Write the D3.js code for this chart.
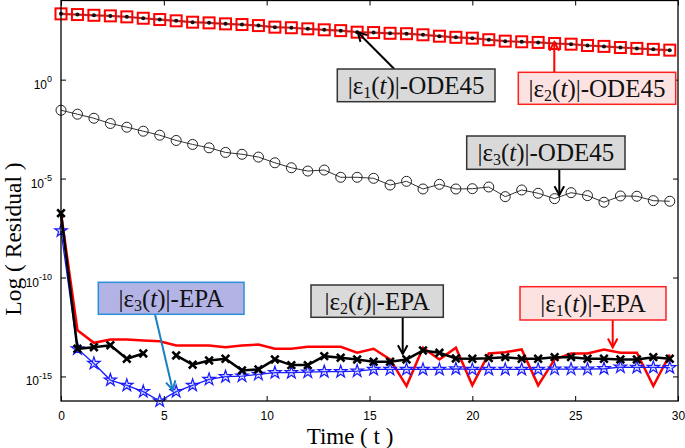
<!DOCTYPE html>
<html><head><meta charset="utf-8">
<script src="https://cdn.jsdelivr.net/npm/d3@7"></script>
<style>body{margin:0;background:#fff;} svg{display:block;}</style>
</head><body><svg id="c" width="685" height="448"></svg>
<script>
// ---------- DATA ----------
const time = [0,0.8,1.6,2.4,3.2,4.0,4.8,5.6,6.4,7.2,8.0,8.8,9.6,10.4,11.2,12.0,12.8,13.6,14.4,15.2,
  16.0,16.8,17.6,18.4,19.2,20.0,20.8,21.6,22.4,23.2,24.0,24.8,25.6,26.4,27.2,28.0,28.8,29.6];
const xTicks = [0,5,10,15,20,25,30];
const yTicks = [1e-15,1e-10,1e-5,1e0];
const yTickExp = ["-15","-10","-5","0"];

const e1ODE45 = [2.11e3,1.95e3,1.79e3,1.67e3,1.49e3,1.27e3,1.09e3,9.4e2,8.0e2,7.4e2,6.6e2,6.1e2,5.4e2,4.5e2,
  4.2e2,3.7e2,3.3e2,3.0e2,2.5e2,2.4e2,2.2e2,2.1e2,1.85e2,1.57e2,1.38e2,1.25e2,1.04e2,88,82,76,67,62,53,48,42,38,34,31];
const e2ODE45 = [2.11e3,1.95e3,1.79e3,1.67e3,1.49e3,1.27e3,1.09e3,9.4e2,8.0e2,7.4e2,6.6e2,6.1e2,5.4e2,4.5e2,
  4.2e2,3.7e2,3.3e2,3.0e2,2.5e2,2.4e2,2.2e2,2.1e2,1.85e2,1.57e2,1.38e2,1.25e2,1.04e2,88,82,76,67,62,53,48,42,38,34,31];
const e3ODE45 = [2.84e-2,1.79e-2,1.12e-2,6.07e-3,3.95e-3,2.48e-3,1.56e-3,8.45e-4,5.31e-4,3.58e-4,2.10e-4,1.69e-4,
  1.22e-4,6.28e-5,3.52e-5,2.40e-5,2.70e-5,1.16e-5,1.16e-5,1.03e-5,4.73e-6,7.26e-6,2.98e-6,5.13e-6,2.98e-6,3.08e-6,
  3.75e-6,1.22e-6,2.65e-6,1.81e-6,9.66e-7,1.94e-6,1.37e-6,6.37e-7,1.32e-6,1.28e-6,7.66e-7,7.14e-7];
const e1EPA = [1.77e-7,2.16e-13,5.01e-14,7.35e-14,7.35e-14,6.55e-14,6.04e-14,3.66e-14,3.66e-14,3.66e-14,3.01e-14,
  3.66e-14,4.12e-14,2.50e-14,2.50e-14,3.15e-14,3.15e-14,3.15e-14,1.57e-14,2.50e-14,7.23e-15,3.27e-16,2.81e-14,
  7.23e-15,2.81e-14,3.54e-16,1.45e-14,1.69e-14,2.31e-14,3.54e-16,7.23e-15,1.45e-14,1.45e-14,2.31e-14,1.57e-14,
  1.57e-14,3.27e-16,1.29e-14];
const e2EPA = [1.77e-7,2.50e-14,3.01e-14,3.79e-14,7.83e-15,1.45e-14,null,1.15e-14,3.91e-15,6.44e-15,7.83e-15,
  2.02e-15,2.26e-15,7.23e-15,3.73e-15,3.73e-15,1.06e-14,8.81e-15,7.23e-15,5.53e-15,5.53e-15,7.23e-15,2.05e-14,
  1.57e-14,8.11e-15,7.83e-15,8.39e-15,9.44e-15,7.83e-15,7.83e-15,9.44e-15,9.44e-15,7.83e-15,7.83e-15,7.23e-15,
  7.23e-15,9.44e-15,7.83e-15];
const e3EPA = [2.28e-8,2.50e-14,4.54e-15,6.55e-16,3.54e-16,1.71e-16,5.73e-17,1.71e-16,3.54e-16,7.10e-16,9.70e-16,
  1.04e-15,1.27e-15,1.55e-15,1.55e-15,1.66e-15,1.73e-15,1.73e-15,1.86e-15,2.26e-15,2.26e-15,2.26e-15,2.26e-15,
  2.26e-15,2.40e-15,2.26e-15,2.26e-15,2.26e-15,2.26e-15,2.26e-15,2.34e-15,2.34e-15,2.34e-15,2.45e-15,2.96e-15,
  2.86e-15,2.86e-15,2.76e-15];
const xLabel = "Time ( t )";
const yLabel = "Log ( Residual )";

// ---------- CHART ----------
const svg = d3.select("#c");
const L = 61, R = 678, T = 0.5, B = 401;
const x = d3.scaleLinear().domain([0, 30]).range([L, R]);
const allVals = [].concat(e1ODE45, e3ODE45, e1EPA, e2EPA, e3EPA).filter(v => v != null);
const y = d3.scaleLog().domain([d3.min(allVals), 1e4]).range([B, T]);

const axisFont = "'Liberation Sans', Arial, sans-serif";
const serif = "'Liberation Serif', 'Times New Roman', serif";

const pts = arr => time.map((t, i) => ({t, v: arr[i]}));
const line = d3.line().defined(d => d.v != null).x(d => x(d.t)).y(d => y(d.v));

const plot = svg.append("g");

// ODE45 e3: open circles
plot.append("path").attr("d", line(pts(e3ODE45))).attr("fill", "none").attr("stroke", "#333").attr("stroke-width", 1);
plot.selectAll(".c3").data(pts(e3ODE45)).join("circle")
  .attr("cx", d => x(d.t)).attr("cy", d => y(d.v)).attr("r", 5)
  .attr("fill", "none").attr("stroke", "#222").attr("stroke-width", 1);

// ODE45 e2: red squares; e1: black dots
plot.append("path").attr("d", line(pts(e2ODE45))).attr("fill", "none").attr("stroke", "#e03030").attr("stroke-width", 2.2);
plot.append("path").attr("d", line(pts(e1ODE45))).attr("fill", "none").attr("stroke", "#333").attr("stroke-width", 1).attr("opacity", 0.6);
plot.selectAll(".sq").data(pts(e2ODE45)).join("rect")
  .attr("x", d => x(d.t) - 5.5).attr("y", d => y(d.v) - 5.5).attr("width", 11).attr("height", 11)
  .attr("fill", "none").attr("stroke", "#ff0000").attr("stroke-width", 2);
plot.selectAll(".dt").data(pts(e1ODE45)).join("circle")
  .attr("cx", d => x(d.t)).attr("cy", d => y(d.v)).attr("r", 2)
  .attr("fill", "#111");

// EPA e1: red line
plot.append("path").attr("d", line(pts(e1EPA))).attr("fill", "none").attr("stroke", "#ff0000").attr("stroke-width", 2.5);
// EPA e3: blue stars
plot.append("path").attr("d", line(pts(e3EPA))).attr("fill", "none").attr("stroke", "#1a1aff").attr("stroke-width", 1.3);
const star = d3.symbol().type(d3.symbolStar).size(48);
plot.selectAll(".st").data(pts(e3EPA)).join("path")
  .attr("d", star).attr("transform", d => `translate(${x(d.t)},${y(d.v)})`)
  .attr("fill", "rgba(120,140,255,0.25)").attr("stroke", "#1a1aff").attr("stroke-width", 1.2);
// EPA e2: black crosses
plot.append("path").attr("d", line(pts(e2EPA))).attr("fill", "none").attr("stroke", "#000").attr("stroke-width", 2.5);
plot.selectAll(".cx").data(pts(e2EPA).filter(d => d.v != null)).join("path")
  .attr("d", "M-3.8,-3.8L3.8,3.8M-3.8,3.8L3.8,-3.8")
  .attr("transform", d => `translate(${x(d.t)},${y(d.v)})`)
  .attr("fill", "none").attr("stroke", "#000").attr("stroke-width", 2.6);

// ---------- AXES ----------
const ax = svg.append("g").attr("font-family", axisFont);
const gx = ax.append("g").attr("transform", `translate(0,${B})`)
  .call(d3.axisBottom(x).tickValues(xTicks).tickSizeInner(-5).tickSizeOuter(0).tickPadding(10.5).tickFormat(d3.format("d")));
gx.selectAll("text").attr("font-size", 12).attr("fill", "#000").attr("font-family", axisFont);
ax.append("g").attr("transform", `translate(0,${T})`)
  .call(d3.axisTop(x).tickValues(xTicks).tickSizeInner(-5).tickSizeOuter(0).tickFormat(""));
const gy = ax.append("g").attr("transform", `translate(${L},0)`)
  .call(d3.axisLeft(y).tickValues(yTicks).tickSizeInner(-5).tickSizeOuter(0).tickPadding(10).tickFormat(""));
ax.append("g").attr("transform", `translate(${R},0)`)
  .call(d3.axisRight(y).tickValues(yTicks).tickSizeInner(-5).tickSizeOuter(0).tickFormat(""));
ax.selectAll(".domain").remove();
ax.selectAll(".tick line").attr("stroke", "#000").attr("stroke-width", 1);
gy.selectAll(".tick").each(function(d, i) {
  const t = d3.select(this).select("text");
  t.attr("dy", null).attr("x", -9).attr("y", 8.5).attr("text-anchor", "end").attr("font-size", 12).attr("fill", "#000");
  t.append("tspan").text("10");
  t.append("tspan").attr("dy", -6.5).attr("font-size", 9).text(yTickExp[i]);
});
// box
svg.append("rect").attr("x", L).attr("y", T).attr("width", R - L).attr("height", B - T)
  .attr("fill", "none").attr("stroke", "#000").attr("stroke-width", 1.3);

// axis labels
svg.append("text").attr("x", 350).attr("y", 443.5).attr("text-anchor", "middle")
  .attr("font-family", serif).attr("font-size", 23).text(xLabel);
svg.append("text").attr("transform", "translate(21,239) rotate(-90)").attr("text-anchor", "middle")
  .attr("font-family", serif).attr("font-size", 23.5).text(yLabel);

// ---------- ANNOTATIONS ----------
function arrow(x1, y1, x2, y2, color) {
  const g = svg.append("g");
  g.append("line").attr("x1", x1).attr("y1", y1).attr("x2", x2).attr("y2", y2)
    .attr("stroke", color).attr("stroke-width", 2);
  const a = Math.atan2(y2 - y1, x2 - x1), hl = 10, hw = 0.5;
  const p1 = [x2 - hl * Math.cos(a - hw), y2 - hl * Math.sin(a - hw)];
  const p2 = [x2 - hl * Math.cos(a + hw), y2 - hl * Math.sin(a + hw)];
  g.append("path").attr("d", `M${p1}L${x2},${y2}L${p2}`).attr("fill", "none")
    .attr("stroke", color).attr("stroke-width", 2).attr("stroke-linejoin", "miter");
}
function box(x0, y0, x1, y1, fill, stroke, sub, suffix) {
  svg.append("rect").attr("x", x0).attr("y", y0).attr("width", x1 - x0).attr("height", y1 - y0)
    .attr("fill", fill).attr("stroke", stroke).attr("stroke-width", 1.5);
  const fs = 25;
  const t = svg.append("text").attr("x", (x0 + x1) / 2).attr("y", (y0 + y1) / 2 + fs * 0.34)
    .attr("text-anchor", "middle").attr("font-family", serif).attr("font-size", fs).attr("fill", "#111");
  t.append("tspan").text("|ε");
  t.append("tspan").attr("dy", 4).attr("font-size", 16).text(sub);
  t.append("tspan").attr("dy", -4).text("(");
  t.append("tspan").attr("font-style", "italic").text("t");
  t.append("tspan").text(")|-" + suffix);
}
const gray = "#d9d9d9", pink = "#fde2e2", lav = "#b3b3e6";
arrow(394.3, 69, 357.7, 32.3, "#000");
box(337.3, 69, 495, 101.7, gray, "#333", "1", "ODE45");
arrow(554.3, 72.3, 554.3, 42, "#ff0000");
box(518.3, 72.3, 675.7, 104.3, pink, "#ff2020", "2", "ODE45");
arrow(559.3, 169.3, 559.3, 195, "#000");
box(466.7, 136, 625, 169.3, gray, "#333", "3", "ODE45");
arrow(155, 314.3, 172.7, 390, "#1a7fc0");
box(98.3, 282.3, 244, 314.3, lav, "#2a90d8", "3", "EPA");
arrow(402.7, 317.3, 402.7, 354, "#000");
box(311, 285, 443.3, 317.3, gray, "#333", "2", "EPA");
arrow(612.7, 320, 612.7, 347.3, "#ff0000");
box(520, 286.7, 666, 320, pink, "#ff2020", "1", "EPA");
</script>
</body></html>
